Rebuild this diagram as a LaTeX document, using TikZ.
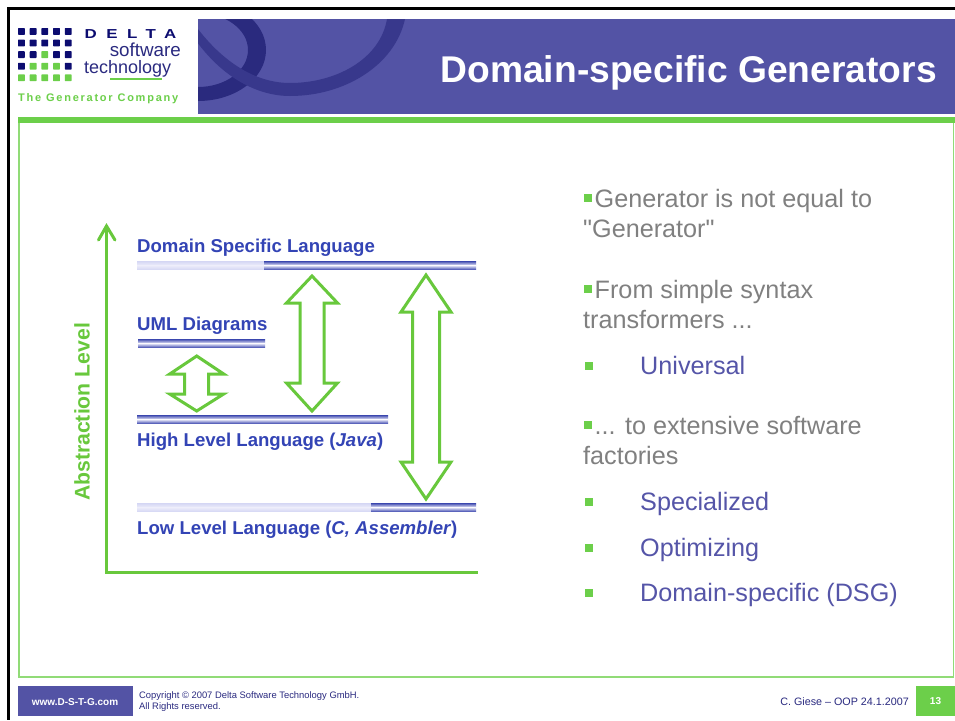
\documentclass[tikz,border=0pt]{standalone}
\usepackage{fontspec}
\setmainfont{Liberation Sans}
\newfontfamily\plainfont{Liberation Sans}
\definecolor{gbar}{HTML}{6CCF4A}
\definecolor{garrow}{HTML}{68C83C}
\definecolor{hpurple}{HTML}{5353A5}
\definecolor{hring}{HTML}{2A2A7E}
\definecolor{hband}{HTML}{38388C}
\definecolor{navy}{HTML}{0C0C70}
\definecolor{lblue}{HTML}{3344B5}
\definecolor{gtext}{HTML}{808080}
\definecolor{itext}{HTML}{5555A8}
\definecolor{fnav}{HTML}{2A2A80}
\definecolor{bdark}{HTML}{3A46AE}
\definecolor{bpale}{HTML}{D4D6F4}
\definecolor{bwhite}{HTML}{ECECFA}
\newfontfamily\spacedfont[LetterSpace=56]{Liberation Sans Bold}
\newfontfamily\tagfont[LetterSpace=16]{Liberation Sans Bold}
\tikzset{
 x=1pt,y=-1pt,
 lbl/.style={inner sep=0,anchor=base west,font=\fontsize{18.6}{22}\selectfont\bfseries,text=lblue},
 gray txt/.style={inner sep=0,anchor=base west,font=\fontsize{25.2}{30}\selectfont,text=gtext},
 item txt/.style={inner sep=0,anchor=base west,font=\fontsize{25.2}{30}\selectfont,text=itext},
 dblarrow/.style={draw=garrow,line width=3pt,fill=white,miter limit=10},
 axisline/.style={draw=garrow,line width=3pt},
 foot/.style={inner sep=0,anchor=base west,font=\fontsize{9.4}{12}\selectfont,text=fnav},
}
\newcommand{\levelbar}[3]{%
 \shade[top color=bdark,bottom color=bwhite] (#1,#3) rectangle (#2,#3+4.4);
 \shade[top color=bwhite,bottom color=bdark] (#1,#3+4.4) rectangle (#2,#3+8.8);
}
\newcommand{\palebar}[3]{%
 \shade[top color=bpale,bottom color=bwhite] (#1,#3) rectangle (#2,#3+4.4);
 \shade[top color=bwhite,bottom color=bpale] (#1,#3+4.4) rectangle (#2,#3+8.8);
}
\newcommand{\dblarrowpath}[7]{%
 \draw[dblarrow] (#1,#2) -- (#1+#6,#3) -- (#1+#7,#3) -- (#1+#7,#4) -- (#1+#6,#4) -- (#1,#5)
   -- (#1-#6,#4) -- (#1-#7,#4) -- (#1-#7,#3) -- (#1-#6,#3) -- cycle;
}
\begin{document}
\begin{tikzpicture}
\useasboundingbox (0,0) rectangle (955,720);
\fill[white] (0,0) rectangle (955,720);
% outer black frame
\fill[black] (7,7) rectangle (955,9.5);
\fill[black] (7,7) rectangle (9.5,720);
% header
\fill[hpurple] (198,19) rectangle (955,114);
\begin{scope}
\clip (198,19) rectangle (955,114);
\fill[hring,even odd rule] (198,50) ellipse [x radius=68,y radius=51] (198,50) ellipse [x radius=50,y radius=37];
\fill[hband] (190,32) .. controls (220,78) and (258,96) .. (290,96)
  .. controls (345,96) and (395,65) .. (405,19) -- (387,19)
  .. controls (380,60) and (335,83) .. (290,83)
  .. controls (250,83) and (215,55) .. (190,18) -- cycle;
\end{scope}
\node[inner sep=0,anchor=base east,font=\fontsize{37.2}{42}\selectfont\bfseries,text=white] (title) at (937,82) {Domain-specific Generators};
% logo
\foreach \r/\c/\k in {0/0/navy,0/1/navy,0/2/navy,0/3/navy,0/4/navy,
 1/0/navy,1/1/navy,1/2/navy,1/3/navy,1/4/navy,
 2/0/navy,2/1/navy,2/2/gbar,2/3/navy,2/4/navy,
 3/0/navy,3/1/gbar,3/2/gbar,3/3/gbar,3/4/navy,
 4/0/gbar,4/1/gbar,4/2/gbar,4/3/gbar,4/4/gbar}{
 \fill[\k,rounded corners=0.6pt] ({18+\c*11.7},{28+\r*11.6}) rectangle ++(6.8,6.8);
}
\node[inner sep=0,anchor=base west,text=navy] (delta) at (84.5,38) {\fontsize{13}{14}\spacedfont\scalebox{1.3}[1]{DELTA}};
\node[inner sep=0,anchor=base east,text=fnav,font=\fontsize{18.8}{20}\selectfont] (soft) at (181,56) {software};
\node[inner sep=0,anchor=base west,text=fnav,font=\fontsize{18}{20}\selectfont] (tech) at (84,73) {technology};
\fill[gbar] (110,78.2) rectangle (162,80.2);
\node[inner sep=0,anchor=base west,text=gbar] (tag) at (18,101.5) {\fontsize{11}{12}\tagfont The Generator Company};
% green frame
\fill[gbar] (18,116.5) rectangle (955,123);
\draw[gbar!75!white,line width=1.5pt] (19,123) -- (19,677) -- (953.5,677) -- (953.5,123);
% level bars
\palebar{137}{264}{261}
\levelbar{264}{476}{261}
\levelbar{138}{265}{339}
\levelbar{137}{388}{415}
\palebar{137}{371}{503}
\levelbar{371}{476}{503}
% labels
\node[lbl] (dsl) at (137,252) {Domain Specific Language};
\node[lbl] (uml) at (137,330) {UML Diagrams};
\node[lbl] (hll) at (137,446) {High Level Language (\textit{Java})};
\node[lbl] (lll) at (137,534) {Low Level Language (\textit{C, Assembler})};
% double arrows
\dblarrowpath{196.7}{356}{374}{394}{411}{27}{12}
\dblarrowpath{312}{276}{303}{383}{411}{25.5}{12}
\dblarrowpath{426}{275}{312}{462}{499}{25}{13.5}
% axes
\coordinate (origin) at (106.5,572);
\coordinate (top) at (106.5,226);
\coordinate (endx) at (478,572);
\draw[axisline] (top) -- (origin) -- (endx);
\draw[axisline,line cap=round] (98.5,240) -- (top) -- (115,240);
\node[inner sep=0,rotate=90,text=garrow,font=\fontsize{21.2}{24}\selectfont\bfseries] (ax) at (82,412) {Abstraction Level};
% right column
\foreach \y in {194,285,421}{\fill[gbar] (584,\y) rectangle ++(8,7.5);}
\foreach \y in {362,498,544,589}{\fill[gbar] (585,\y) rectangle ++(7.5,7.5);}
\node[gray txt] (t1) at (594.5,207.3) {Generator is not equal to};
\node[gray txt] (t2) at (583,237.5) {\plainfont "Generator"};
\node[gray txt] (t3) at (594.5,298.3) {From simple syntax};
\node[gray txt] (t4) at (583,328.3) {transformers ...};
\node[item txt] (t5) at (640,374.3) {Universal};
\node[gray txt] (t6) at (594.5,434.3) {... to extensive software};
\node[gray txt] (t7) at (583,464.3) {factories};
\node[item txt] (t8) at (640,510.3) {Specialized};
\node[item txt] (t9) at (640,556.3) {Optimizing};
\node[item txt] (t10) at (640,601.3) {Domain-specific (DSG)};
% footer
\fill[hpurple] (18,686) rectangle (132.5,716);
\node[inner sep=0,text=white,font=\fontsize{10}{12}\selectfont\bfseries] (web) at (75,702) {www.D-S-T-G.com};
\node[foot] (c1) at (139,698) {Copyright © 2007 Delta Software Technology GmbH.};
\node[foot] (c2) at (139,709.2) {All Rights reserved.};
\node[inner sep=0,anchor=base east,text=fnav,font=\fontsize{10.75}{13}\selectfont] (who) at (909,705) {C. Giese – OOP 24.1.2007};
\fill[gbar] (916,686) rectangle (955,716);
\node[inner sep=0,text=white,font=\fontsize{10}{12}\selectfont\bfseries] (num) at (935.5,701.5) {13};
\end{tikzpicture}
\end{document}
